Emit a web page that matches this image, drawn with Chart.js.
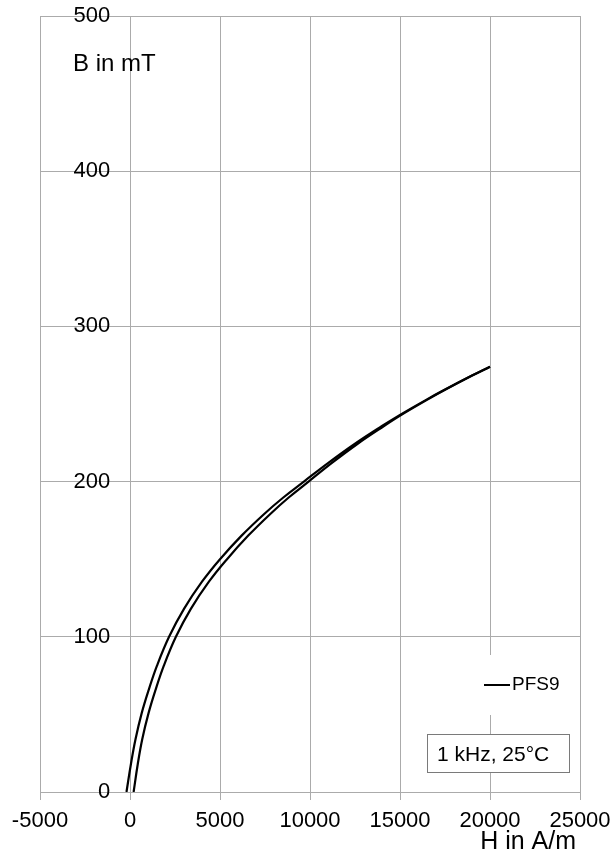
<!DOCTYPE html>
<html>
<head>
<meta charset="utf-8">
<script src="https://cdn.jsdelivr.net/npm/chart.js@4/dist/chart.umd.min.js"></script>
<style>
  html, body { margin: 0; padding: 0; background: #ffffff; }
  #wrap { width: 611px; height: 856px; position: relative; }
</style>
</head>
<body>
<div id="wrap"><canvas id="c" width="611" height="856"></canvas></div>
<script>
// Axis ranges and labels
const xTicks = [-5000, 0, 5000, 10000, 15000, 20000, 25000];
const yTicks = [0, 100, 200, 300, 400, 500];
const xTitle = 'H in A/m';
const yTitle = 'B in mT';
const seriesName = 'PFS9';
const conditionText = '1 kHz, 25°C';

// Descending branch of the B-H loop (H in A/m, B in mT)
const descendingH = [-195, 50, 306, 650, 1045, 1500, 2170, 3000, 4000, 5000, 6200, 7440, 8500, 9660, 11000, 12500, 14000, 15000, 16500, 17500, 19000, 20000];
const descendingB = [0, 17.9, 34, 50.8, 66, 81.4, 100, 118, 135.5, 150, 165.2, 179, 189.6, 200, 211.9, 224.4, 235.8, 243, 253, 259.3, 268.3, 274];

// Ascending branch of the B-H loop
const ascendingH = [200, 430, 680, 1030, 1425, 1880, 2550, 3380, 4385, 5390, 6570, 7780, 8800, 9920, 11200, 12650, 14110, 15080, 16550, 17530, 19010, 20000];
const ascendingB = [0, 17.9, 34, 50.8, 66, 81.4, 100, 118, 135.5, 150, 165.2, 179, 189.6, 200, 211.9, 224.4, 235.8, 243, 253, 259.3, 268.3, 274];

// H value where the B tick labels end, just left of the H = 0 line
const yLabelAnchorH = -1100;

const toPoints = (hs, bs) => hs.map((h, i) => ({ x: h, y: bs[i] }));

const FONT = "'Liberation Sans', Arial, sans-serif";
const GRID = '#ababab';

// Axis titles, legend and condition box drawn on the canvas
const decorations = {
  id: 'decorations',
  afterDraw(chart) {
    const { ctx, chartArea } = chart;
    ctx.save();
    ctx.fillStyle = '#000';
    ctx.textBaseline = 'alphabetic';

    // vertical axis title, written horizontally near the top
    ctx.font = '24px ' + FONT;
    ctx.textAlign = 'left';
    ctx.fillText(yTitle, chartArea.left + 33, chartArea.top + 55);

    // horizontal axis title under the right end of the axis
    ctx.font = '25px ' + FONT;
    ctx.textAlign = 'right';
    ctx.fillText(xTitle, chartArea.right - 4, chartArea.bottom + 57);
    ctx.textAlign = 'left';

    // legend
    ctx.fillStyle = '#fff';
    ctx.fillRect(478, 655, 90, 60);
    ctx.strokeStyle = '#000';
    ctx.lineWidth = 2;
    ctx.beginPath();
    ctx.moveTo(484, 685);
    ctx.lineTo(510, 685);
    ctx.stroke();
    ctx.fillStyle = '#000';
    ctx.font = '19px ' + FONT;
    ctx.textBaseline = 'middle';
    ctx.fillText(chart.data.datasets[0].label, 512, 685);

    // measurement condition box
    ctx.fillStyle = '#fff';
    ctx.fillRect(427, 734, 143, 39);
    ctx.strokeStyle = '#7a7a7a';
    ctx.lineWidth = 1;
    ctx.strokeRect(427.5, 734.5, 142, 38);
    ctx.fillStyle = '#000';
    ctx.font = '21px ' + FONT;
    ctx.textBaseline = 'alphabetic';
    ctx.fillText(conditionText, 437, 761);

    ctx.restore();
  }
};

const branchStyle = {
  showLine: true,
  borderColor: '#000',
  borderWidth: 2.2,
  pointRadius: 0,
  tension: 0.4,
  fill: false
};

new Chart(document.getElementById('c'), {
  type: 'scatter',
  data: {
    datasets: [
      Object.assign({ label: seriesName, data: toPoints(descendingH, descendingB) }, branchStyle),
      Object.assign({ label: seriesName, data: toPoints(ascendingH, ascendingB) }, branchStyle)
    ]
  },
  options: {
    responsive: false,
    animation: false,
    devicePixelRatio: 1,
    layout: { padding: { left: 40, right: 31, top: 16, bottom: 0 } },
    plugins: {
      legend: { display: false },
      tooltip: { enabled: false }
    },
    scales: {
      x: {
        type: 'linear',
        position: 'bottom',
        min: xTicks[0],
        max: xTicks[xTicks.length - 1],
        afterBuildTicks: (scale) => { scale.ticks = xTicks.map(v => ({ value: v })); },
        afterFit: (scale) => {
          scale.height = 64;
          scale.paddingLeft = 0; scale.paddingRight = 0;
          scale.paddingTop = 0; scale.paddingBottom = 0;
        },
        ticks: {
          color: '#000',
          font: { family: FONT, size: 22, lineHeight: 1 },
          padding: 10,
          maxRotation: 0,
          autoSkip: false,
          callback: (v) => String(v)
        },
        grid: { color: GRID, lineWidth: 1, tickLength: 8, tickColor: GRID },
        border: { color: GRID, width: 1 }
      },
      y: {
        type: 'linear',
        position: { x: yLabelAnchorH },
        min: yTicks[0],
        max: yTicks[yTicks.length - 1],
        afterBuildTicks: (scale) => { scale.ticks = yTicks.map(v => ({ value: v })); },
        afterFit: (scale) => {
          scale.paddingLeft = 0; scale.paddingRight = 0;
          scale.paddingTop = 0; scale.paddingBottom = 0;
        },
        ticks: {
          color: '#000',
          font: { family: FONT, size: 22, lineHeight: 1 },
          padding: 0,
          callback: (v) => String(v)
        },
        grid: { color: GRID, lineWidth: 1, drawTicks: false },
        border: { display: false }
      }
    }
  },
  plugins: [decorations]
});
</script>
</body>
</html>
